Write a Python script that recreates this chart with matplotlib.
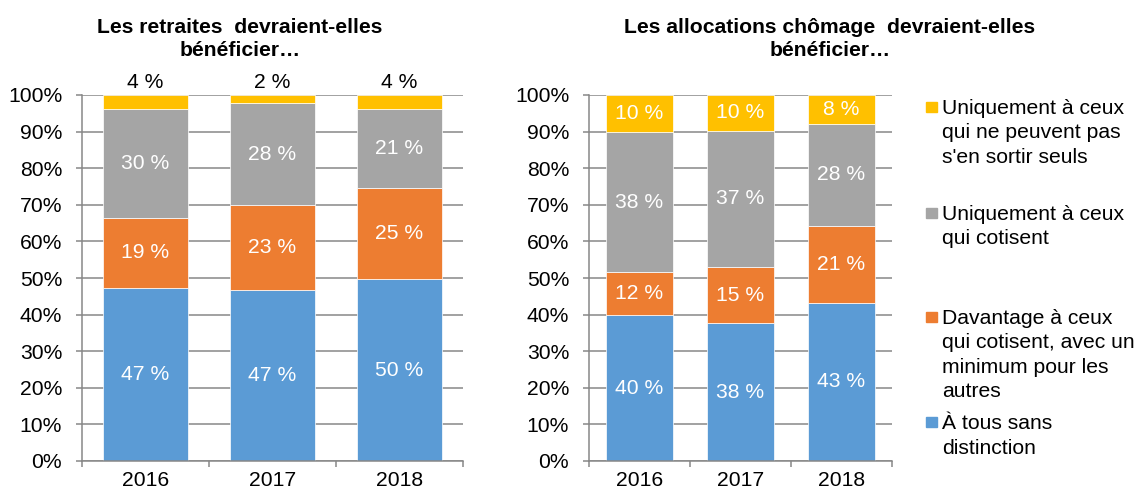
import matplotlib
matplotlib.use("Agg")
import matplotlib.pyplot as plt
from matplotlib.patches import Rectangle
import numpy as np

plt.rcParams['font.family'] = ['Liberation Sans', 'DejaVu Sans']

years = ["2016", "2017", "2018"]
series_names = [
    ["À tous sans", "distinction"],
    ["Davantage à ceux", "qui cotisent, avec un", "minimum pour les", "autres"],
    ["Uniquement à ceux", "qui cotisent"],
    ["Uniquement à ceux", "qui ne peuvent pas", "s'en sortir seuls"],
]
colors = ["#5B9BD5", "#ED7D31", "#A5A5A5", "#FFC000"]

# Retraites
ret_tous = [47.4, 46.8, 49.7]
ret_davantage = [19.1, 23.1, 25.0]
ret_cotisent = [29.8, 27.8, 21.4]
ret_peuvent = [3.7, 2.3, 3.9]

# Allocations chômage
cho_tous = [39.8, 37.7, 43.2]
cho_davantage = [11.8, 15.3, 21.0]
cho_cotisent = [38.2, 37.2, 28.0]
cho_peuvent = [10.2, 9.8, 7.8]

title_left = "Les retraites  devraient-elles\nbénéficier…"
title_right = "Les allocations chômage  devraient-elles\nbénéficier…"

W, H = 1138, 492
fig = plt.figure(figsize=(W / 100, H / 100), dpi=100)

grid_c = "#878787"
FS = 15.2


def px_ax(x0, x1, y0, y1):
    return fig.add_axes([x0 / W, 1 - y1 / H, (x1 - x0) / W, (y1 - y0) / H])


def draw(ax, data, top_outside):
    x = np.arange(len(years))
    bottom = np.zeros(len(years))
    for i, vals in enumerate(data):
        vals = np.array(vals)
        ax.bar(x, vals, width=0.667, bottom=bottom, color=colors[i],
               edgecolor="white", linewidth=0.5, zorder=2)
        for j in range(len(x)):
            lab = f"{int(round(vals[j]))} %"
            if i == 3 and top_outside:
                ax.annotate(lab, (x[j], 100), xytext=(0, 5), textcoords="offset points",
                            ha="center", va="baseline", fontsize=FS, color="black")
            else:
                ax.text(x[j], bottom[j] + vals[j] / 2, lab, ha="center", va="center",
                        fontsize=FS, color="white", zorder=3)
        bottom += vals
    ax.set_xlim(-0.5, len(years) - 0.5)
    ax.set_ylim(0, 100)
    ax.set_yticks(np.arange(0, 101, 10))
    ax.set_yticklabels([f"{v}%" for v in range(0, 101, 10)], fontsize=FS)
    ax.yaxis.grid(True, color=grid_c, linewidth=1.1, zorder=0)
    ax.set_axisbelow(True)
    ax.set_xticks(x)
    ax.set_xticklabels(years, fontsize=FS)
    ax.set_xticks(np.arange(-0.5, len(years), 1.0), minor=True)
    ax.tick_params(axis="x", which="major", length=0, pad=7.5)
    ax.tick_params(axis="x", which="minor", length=4, color=grid_c, width=1.1, direction="out")
    ax.tick_params(axis="y", length=4.3, color=grid_c, width=1.1, pad=10)
    for s in ["top", "right"]:
        ax.spines[s].set_visible(False)
    for s in ["left", "bottom"]:
        ax.spines[s].set_color(grid_c)
        ax.spines[s].set_linewidth(1.1)


ax1 = px_ax(82, 463, 95, 461)
draw(ax1, [ret_tous, ret_davantage, ret_cotisent, ret_peuvent], True)
ax2 = px_ax(589, 892, 95, 461)
draw(ax2, [cho_tous, cho_davantage, cho_cotisent, cho_peuvent], False)

for cx, t in [(240, title_left), (830, title_right)]:
    lines = t.split("\n")
    for k, ln in enumerate(lines):
        fig.text(cx / W, 1 - (32.7 + 23.5 * k) / H, ln, ha="center", va="baseline",
                 fontsize=FS, fontweight="bold")

# Legend (top to bottom: reversed series order)
legend_first_baselines = [429.3, 324.3, 220.0, 114.3]
line_gap = 24.2
for i in range(4):
    b = legend_first_baselines[i]
    fig.patches.append(Rectangle((926 / W, 1 - (b - 2) / H), 10.5 / W, 10.5 / H,
                                 transform=fig.transFigure, color=colors[i]))
    for k, ln in enumerate(series_names[i]):
        fig.text(942 / W, 1 - (b + line_gap * k) / H, ln, ha="left", va="baseline",
                 fontsize=FS)

fig.savefig("out.png", dpi=100)
